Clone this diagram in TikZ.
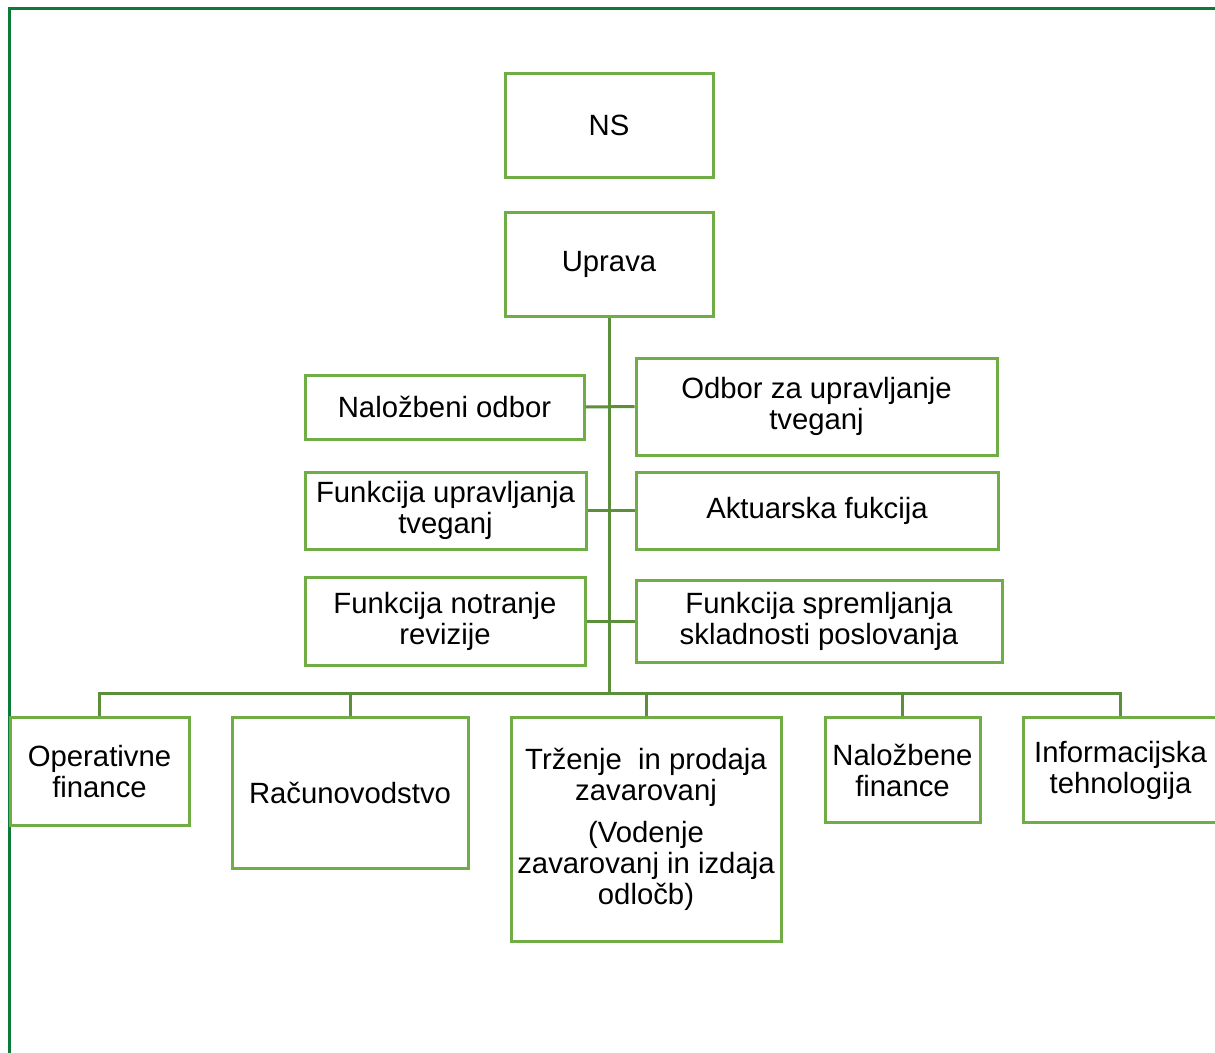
\documentclass[tikz,border=0pt]{standalone}
\usepackage{fontspec}
\setmainfont{Liberation Sans}
\definecolor{boxgreen}{HTML}{70AD47}
\definecolor{linegreen}{HTML}{5B8F3A}
\definecolor{framegreen}{HTML}{0E7A3A}
\begin{document}
\begin{tikzpicture}[x=1pt,y=-1pt,
  box/.style={draw=boxgreen, line width=3pt, fill=white, align=center, inner sep=1pt,
    font=\fontsize{29.3}{31}\selectfont, text=black},
  conn/.style={draw=linegreen, line width=3pt},
  frame/.style={draw=framegreen, line width=3pt}]
\useasboundingbox (0,0) rectangle (1215,1052);
\clip (0,0) rectangle (1215,1052);
\draw[frame] (9,1070) -- (9,8.5) -- (1230,8.5);
% top
\node[box, minimum width=208, minimum height=104] (ns) at (609,125) {NS};
\node[box, minimum width=208, minimum height=104] (up) at (609,264) {Uprava};
% middle
\node[box, minimum width=279, minimum height=64] (nalo) at (444.5,407) {Naložbeni odbor};
\node[box, minimum width=361, minimum height=97] (odb) at (816.5,406.5) {Odbor za upravljanje\\tveganj};
\node[box, minimum width=281, minimum height=77] (fut) at (445.5,510.5) {Funkcija upravljanja\\tveganj};
\node[box, minimum width=362, minimum height=77] (akt) at (817,510.5) {Aktuarska fukcija};
\node[box, minimum width=280, minimum height=88] (fnr) at (445,621) {Funkcija notranje\\revizije};
\node[box, minimum width=366, minimum height=82] (fsp) at (819,621) {Funkcija spremljanja\\skladnosti poslovanja};
\coordinate (bus) at (609,693);
% bottom
\node[box, minimum width=179, minimum height=108, anchor=north] (op) at (99.5,716) {Operativne\\finance};
\node[box, minimum width=236, minimum height=151, anchor=north] (rac) at (350,716) {Računovodstvo};
\node[box, minimum width=270, minimum height=224, anchor=north] (trz) at (646,716) {Trženje\ \ in prodaja\\zavarovanj\\[11pt](Vodenje\\zavarovanj in izdaja\\odločb)};
\node[box, minimum width=155, minimum height=105, anchor=north] (nf) at (902.5,716) {Naložbene\\finance};
\node[box, minimum width=195, minimum height=105, anchor=north] (it) at (1120.5,716) {Informacijska\\tehnologija};
% connectors
\draw[conn] (up.south) -- (bus);
\draw[conn] (nalo.east) -- (odb.west);
\draw[conn] (fut.east) -- (akt.west);
\draw[conn] (fnr.east) -- (fsp.west);
\draw[conn] (op.north) |- (bus) -| (it.north);
\draw[conn] (rac.north) -- (rac.north |- bus);
\draw[conn] (trz.north) -- (trz.north |- bus);
\draw[conn] (nf.north) -- (nf.north |- bus);
\end{tikzpicture}
\end{document}
